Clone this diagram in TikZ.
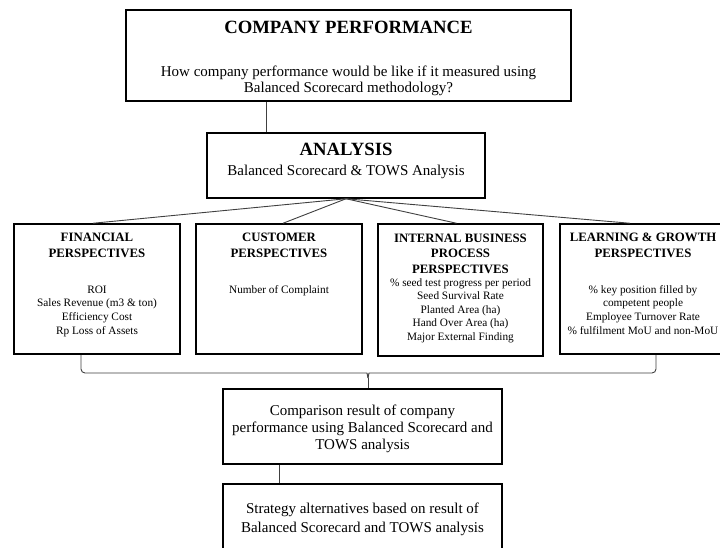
\documentclass[tikz,border=0pt]{standalone}
\usepackage{fontspec}
\setmainfont{Liberation Serif}
\begin{document}
\begin{tikzpicture}[x=1pt,y=-1pt,
  box/.style={draw=black, line width=1.5pt, inner sep=0pt},
  conn/.style={draw=black!75, line width=0.9pt},
  bigtitle/.style={font={\fontsize{18.7}{20}\selectfont\bfseries}, inner sep=0pt, anchor=base},
  mid/.style={font={\fontsize{15}{16}\selectfont}, inner sep=0pt, align=center, anchor=base},
  head/.style={font={\fontsize{12.8}{15.5}\selectfont\bfseries}, inner sep=0pt, align=center, anchor=base},
  body/.style={font={\fontsize{11.3}{13.6}\selectfont}, inner sep=0pt, align=center, anchor=base}]
\useasboundingbox (0,0) rectangle (720,547);
\clip (0,0) rectangle (720,547);
\fill[white] (0,0) rectangle (720,547);

% top box
\node[box, minimum width=445pt, minimum height=91pt] (perf) at (348.5,55.5) {};
\node[bigtitle] (perfT) at (348.5,33) {COMPANY PERFORMANCE};
\node[mid] (perfQ) at (348.5,92) {How company performance would be like if it measured using\\Balanced Scorecard methodology?};

% analysis
\node[box, minimum width=278pt, minimum height=65pt] (anal) at (346,165.5) {};
\node[bigtitle] (analT) at (346,155) {ANALYSIS};
\node[mid] (analS) at (346,175) {Balanced Scorecard \& TOWS Analysis};

% perspectives
\node[box, minimum width=166pt, minimum height=130pt] (fin) at (97,289) {};
\node[box, minimum width=166pt, minimum height=130pt] (cust) at (279,289) {};
\node[box, minimum width=165pt, minimum height=132pt] (int) at (460.5,290) {};
\node[box, minimum width=166pt, minimum height=130pt] (learn) at (643,289) {};

\node[head] (finH) at (97,257) {FINANCIAL\\PERSPECTIVES};
\node[body] (finB) at (97,334) {ROI\\Sales Revenue (m3 \& ton)\\Efficiency Cost\\Rp Loss of Assets};

\node[head] (custH) at (279,257) {CUSTOMER\\PERSPECTIVES};
\node[body] (custB) at (279,293) {Number of Complaint};

\node[head] (intH) at (460.5,273) {INTERNAL BUSINESS\\PROCESS\\PERSPECTIVES};
\node[body, font={\fontsize{11.3}{13.5}\selectfont}] (intB) at (460.5,340) {\% seed test progress per period\\Seed Survival Rate\\Planted Area (ha)\\Hand Over Area (ha)\\Major External Finding};

\node[head] (learnH) at (643,257) {LEARNING \& GROWTH\\PERSPECTIVES};
\node[body] (learnB) at (643,334) {\% key position filled by\\competent people\\Employee Turnover Rate\\\% fulfilment MoU and non-MoU};

% comparison & strategy
\node[box, minimum width=279pt, minimum height=75pt] (comp) at (362.5,426.5) {};
\node[mid, font={\fontsize{15}{17}\selectfont}] (compT) at (362.5,449) {Comparison result of company\\performance using Balanced Scorecard and\\TOWS analysis};
\node[box, minimum width=279pt, minimum height=68pt] (strat) at (362.5,518) {};
\node[mid, font={\fontsize{15}{19}\selectfont}] (stratT) at (362.5,532) {Strategy alternatives based on result of\\Balanced Scorecard and TOWS analysis};

% connectors
\draw[conn] ([xshift=-82.5pt]perf.south) -- ([xshift=-80pt]anal.north);
\draw[conn] (anal.south) -- ([xshift=-4pt]fin.north);
\draw[conn] (anal.south) -- ([xshift=4pt]cust.north);
\draw[conn] (anal.south) -- ([xshift=-4pt]int.north);
\draw[conn] (anal.south) -- ([xshift=-13pt]learn.north);

\coordinate (tip) at (368,373);
\draw[conn, rounded corners=4pt] ([xshift=-16pt]fin.south) |- ([xshift=-5pt]tip) .. controls ([xshift=-1pt]tip) .. ([yshift=-5pt]tip);
\draw[conn, rounded corners=4pt] ([xshift=13pt]learn.south) |- ([xshift=5pt]tip) .. controls ([xshift=1pt]tip) .. ([yshift=-5pt]tip);
\draw[conn] ([yshift=-5pt]tip) -- (tip |- comp.north);
\draw[conn] ([xshift=-83.5pt]comp.south) -- ([xshift=-83.5pt]strat.north);
\end{tikzpicture}
\end{document}
